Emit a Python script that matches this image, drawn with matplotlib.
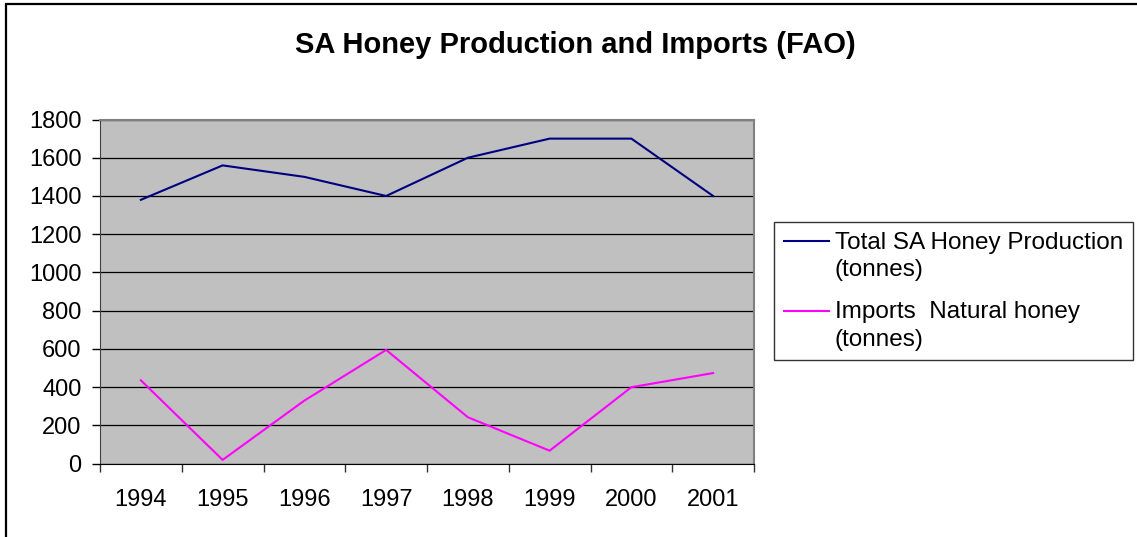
import matplotlib
matplotlib.use("Agg")
import matplotlib.pyplot as plt
from matplotlib.patches import Rectangle
from matplotlib.legend_handler import HandlerLine2D

plt.rcParams['font.family'] = ['Liberation Sans', 'DejaVu Sans']

years = ['1994', '1995', '1996', '1997', '1998', '1999', '2000', '2001']
production = [1380, 1560, 1500, 1400, 1600, 1700, 1700, 1400]
imports = [436, 20, 330, 595, 243, 68, 400, 474]
y_ticks = list(range(0, 1801, 200))


class TopLineHandler(HandlerLine2D):
    # put the legend line next to the first text line, like Excel does
    def create_artists(self, legend, orig_handle, xdescent, ydescent,
                       width, height, fontsize, trans):
        artists = super().create_artists(legend, orig_handle, xdescent, ydescent,
                                         width, height, fontsize, trans)
        for a in artists:
            a.set_ydata([y + fontsize * 0.62 for y in a.get_ydata()])
        return artists


W, H = 1137, 537
fig = plt.figure(figsize=(W / 100, H / 100), dpi=100)
fig.patches.append(Rectangle((6 / W, -0.1), 1.2, 1.1 - 4 / H, transform=fig.transFigure,
                             fill=False, edgecolor='black', linewidth=1.6))

ax = fig.add_axes([100 / W, (H - 463.7) / H, 654 / W, 344.2 / H])
ax.set_facecolor('#C0C0C0')

x = [i + 0.5 for i in range(len(years))]
ax.plot(x, production, color='#000080', linewidth=1.5,
        label='Total SA Honey Production\n(tonnes)')
ax.plot(x, imports, color='#FF00FF', linewidth=1.5,
        label='Imports  Natural honey\n(tonnes)')

ax.set_xlim(0, len(years))
ax.set_ylim(0, 1800)
ax.set_yticks(y_ticks)
ax.set_xticks(range(len(years) + 1))
ax.set_xticklabels([])
ax.set_xticks(x, minor=True)
ax.set_xticklabels(years, minor=True)
ax.tick_params(axis='x', which='minor', length=0, pad=18.5, labelsize=17)
ax.tick_params(axis='x', which='major', length=5.8, width=1, color='#333333')
ax.tick_params(axis='y', length=5.8, width=1, pad=7.5, labelsize=17)
ax.grid(axis='y', color='black', linewidth=0.9)
ax.set_axisbelow(True)

for side in ['top', 'right']:
    ax.spines[side].set_color('#808080')
    ax.spines[side].set_linewidth(1.5)
ax.spines['left'].set_color('#404040')
ax.spines['bottom'].set_color('black')

fig.text(575 / W, 1 - 45 / H, 'SA Honey Production and Imports (FAO)',
         ha='center', va='center', fontsize=21, fontweight='bold')

leg = ax.legend(loc='upper left', bbox_to_anchor=(774 / W, 1 - 222 / H),
                bbox_transform=fig.transFigure, frameon=True, fancybox=False,
                edgecolor='black', fontsize=17.5, handlelength=1.85,
                handletextpad=0.25, labelspacing=0.85, borderpad=0.4,
                borderaxespad=0,
                handler_map={plt.Line2D: TopLineHandler()})
for t in leg.get_texts():
    t.set_linespacing(1.3)
leg.get_frame().set_linewidth(1.0)

fig.savefig('out.png', dpi=100)
